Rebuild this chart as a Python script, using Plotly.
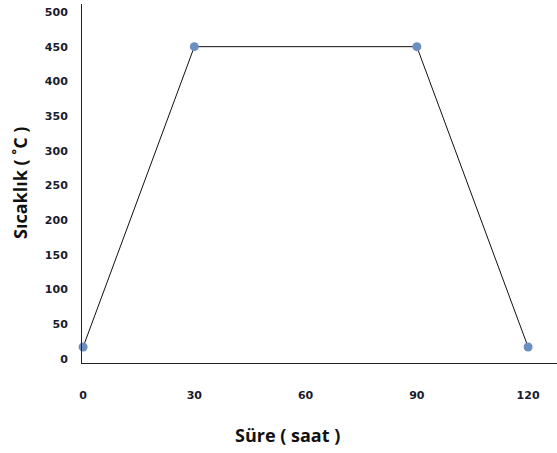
import plotly.graph_objects as go

# Data
time_h = [0, 30, 90, 120]
temp_c = [17, 450, 450, 17]
x_ticks = [0, 30, 60, 90, 120]
y_ticks = [0, 50, 100, 150, 200, 250, 300, 350, 400, 450, 500]

W, H = 557, 453
L, R, T, B = 82, 0, 4, 90

fig = go.Figure()
fig.add_trace(go.Scatter(
    x=time_h, y=temp_c, mode="lines+markers",
    line=dict(color="#111111", width=1),
    marker=dict(color="#6D8EC0", size=9),
    showlegend=False, cliponaxis=False,
))

tickfont = dict(family="DejaVu Sans", size=11, color="#1a1a2e")

fig.update_layout(
    width=W, height=H,
    margin=dict(l=L, r=R, t=T, b=B),
    paper_bgcolor="white", plot_bgcolor="white",
    xaxis=dict(
        range=[-0.3, 127.8], tickvals=x_ticks, ticktext=[f"<b>{v}</b>" for v in x_ticks],
        showgrid=False, zeroline=False, showline=True, linecolor="#222222", linewidth=1,
        ticks="", tickfont=tickfont, ticklabelstandoff=22,
    ),
    yaxis=dict(
        range=[-6, 511.5], tickvals=y_ticks, ticktext=[f"<b>{v}</b>" for v in y_ticks],
        showgrid=False, zeroline=False, showline=True, linecolor="#222222", linewidth=1,
        ticks="", tickfont=tickfont, ticklabelstandoff=11,
    ),
    annotations=[
        dict(text="<b>Süre ( saat )</b>", x=287, y=H - 435, xref="paper", yref="paper",
             showarrow=False, font=dict(family="Open Sans", size=18, color="#111111")),
        dict(text="<b>Sıcaklık ( ˚C )</b>", textangle=-90, x=20, y=H - 183,
             xref="paper", yref="paper", showarrow=False,
             font=dict(family="Open Sans", size=18, color="#111111")),
    ],
)

# Convert pixel positions of annotations into paper coordinates
pw = W - L - R
ph = H - T - B
for a in fig.layout.annotations:
    px, py = a.x, a.y
    a.x = (px - L) / pw
    a.y = (py - B) / ph
    a.xanchor = "center"
    a.yanchor = "middle"

fig.write_html("out.html")
